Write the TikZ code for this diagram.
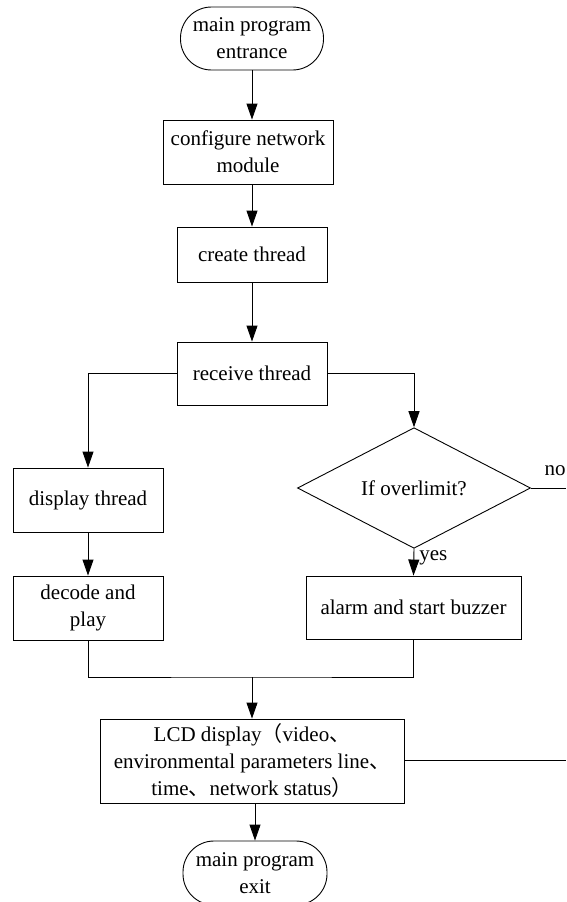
\documentclass[tikz,border=0pt]{standalone}
\usepackage{fontspec}
\setmainfont{Liberation Serif}
\newfontfamily\cjk{Noto Sans CJK SC}
\usetikzlibrary{arrows.meta,shapes.geometric}
\begin{document}
\begin{tikzpicture}[x=1pt,y=-1pt,
  font=\fontsize{21}{27}\selectfont,
  line width=0.9pt,
  box/.style={draw,rectangle,inner sep=0pt,align=center},
  term/.style={draw,rectangle,rounded corners=31pt,inner sep=0pt,align=center},
  dec/.style={draw,diamond,inner sep=0pt,align=center},
  arr/.style={-{Triangle[length=16pt,width=11pt]}}]
\useasboundingbox (0,0) rectangle (566,902);

\node[term,minimum width=143pt,minimum height=63pt] (start) at (252,38.5) {main program\\entrance};
\node[box,minimum width=170pt,minimum height=64pt] (conf) at (248,152) {configure network\\module};
\node[box,minimum width=150pt,minimum height=55pt] (create) at (252,254.5) {create thread};
\node[box,minimum width=150pt,minimum height=63pt] (recv) at (252,373.5) {receive thread};
\node[box,minimum width=150pt,minimum height=64pt] (disp) at (88,500) {display thread};
\node[box,minimum width=150pt,minimum height=64pt] (decode) at (88,608) {decode and\\play};
\node[dec,minimum width=233pt,minimum height=82pt] (dec) at (414,488) {If overlimit?};
\node[box,minimum width=215pt,minimum height=63pt] (alarm) at (413.5,607.5) {alarm and start buzzer};
\node[box,minimum width=304pt,minimum height=84pt] (lcd) at (252,761) {LCD display{\cjk （}video{\cjk 、}\\environmental parameters line{\cjk 、}\\time{\cjk 、}network status{\cjk ）}};
\node[term,minimum width=144pt,minimum height=64pt] (exit) at (255,873) {main program\\exit};

\coordinate (noend) at (566,488);
\coordinate (mid) at (252,677);
\coordinate (lcdend) at (566,760);
\node (nolabel) at (555,471) {no};

\draw[arr] (start) -- (start |- conf.north);
\draw[arr] (create |- conf.south) -- (create.north);
\draw[arr] (recv |- create.south) -- (recv.north);
\draw[arr] (recv.west) -| (disp.north);
\draw[arr] (recv.east) -| (dec.north);
\draw[arr] (disp) -- (decode);
\draw[arr] (dec.south) -- node[pos=0.33,right,inner sep=5pt] {yes} (alarm.north);
\draw (dec.east) -- (noend);
\draw (decode.south) |- (mid) -| (alarm.south);
\draw[arr] (mid) -- (lcd.north);
\draw (lcd.east |- lcdend) -- (lcdend);
\draw[arr] (exit |- lcd.south) -- (exit.north);
\end{tikzpicture}
\end{document}
